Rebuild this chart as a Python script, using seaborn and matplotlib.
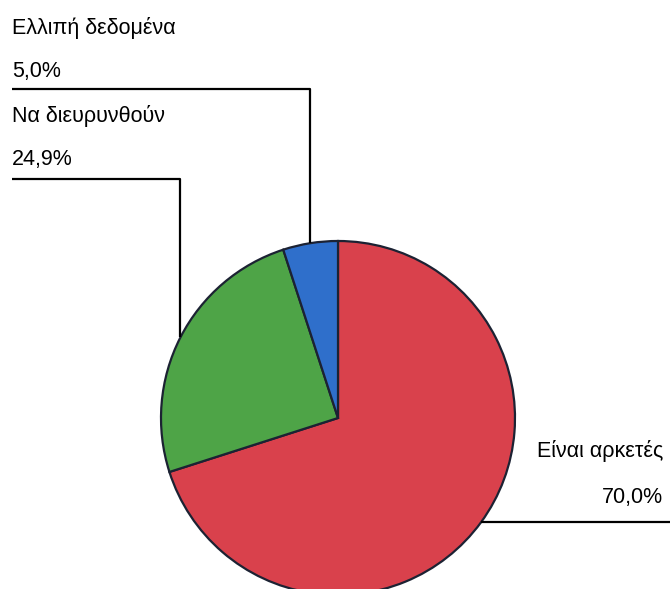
import numpy as np
import matplotlib
matplotlib.use("Agg")
import matplotlib.pyplot as plt
import seaborn as sns

labels = ["Είναι αρκετές", "Να διευρυνθούν", "Ελλιπή δεδομένα"]
values = [70.0, 24.9, 5.0]
value_labels = ["70,0%", "24,9%", "5,0%"]
colors = ["#d9414c", "#4ea447", "#2f6fcb"]

sns.set_theme(style="white")
plt.rcParams["font.family"] = ["Liberation Sans", "DejaVu Sans"]
plt.rcParams["text.color"] = "black"

W, H = 670, 589
fig = plt.figure(figsize=(W / 100, H / 100), dpi=100)
ax = fig.add_axes([0, 0, 1, 1])

cx, cy, r = 338, H - 418, 177
wedges, _ = ax.pie(values, colors=colors, startangle=90, counterclock=False,
                   center=(cx, cy), radius=r, frame=True,
                   wedgeprops=dict(edgecolor="#1c2233", linewidth=1.6))
ax.set_xlim(0, W)
ax.set_ylim(0, H)
ax.set_aspect("equal")
ax.axis("off")

def mid_point(w):
    ang = np.deg2rad((w.theta1 + w.theta2) / 2)
    return cx + r * np.cos(ang), cy + r * np.sin(ang)

line_kw = dict(color="black", linewidth=1.6, solid_capstyle="butt")
fs = 15.5

# Ελλιπή δεδομένα (blue): leader from label rule down to wedge
bx, by = mid_point(wedges[2])
ax.plot([12, bx, bx], [H - 89, H - 89, by], **line_kw)
ax.text(12, H - 28, labels[2], fontsize=fs, va="center", ha="left")
ax.text(12, H - 72, value_labels[2], fontsize=fs, va="center", ha="left")

# Να διευρυνθούν (green)
gx, gy = mid_point(wedges[1])
ax.plot([12, gx, gx], [H - 179, H - 179, gy], **line_kw)
ax.text(12, H - 116, labels[1], fontsize=fs, va="center", ha="left")
ax.text(12, H - 160, value_labels[1], fontsize=fs, va="center", ha="left")

# Είναι αρκετές (red)
rx, ry = mid_point(wedges[0])
ax.plot([rx, W], [ry, ry], **line_kw)
ax.text(663, H - 451, labels[0], fontsize=fs, va="center", ha="right")
ax.text(663, H - 497, value_labels[0], fontsize=fs, va="center", ha="right")

fig.savefig("out.png", dpi=100, facecolor="white")
